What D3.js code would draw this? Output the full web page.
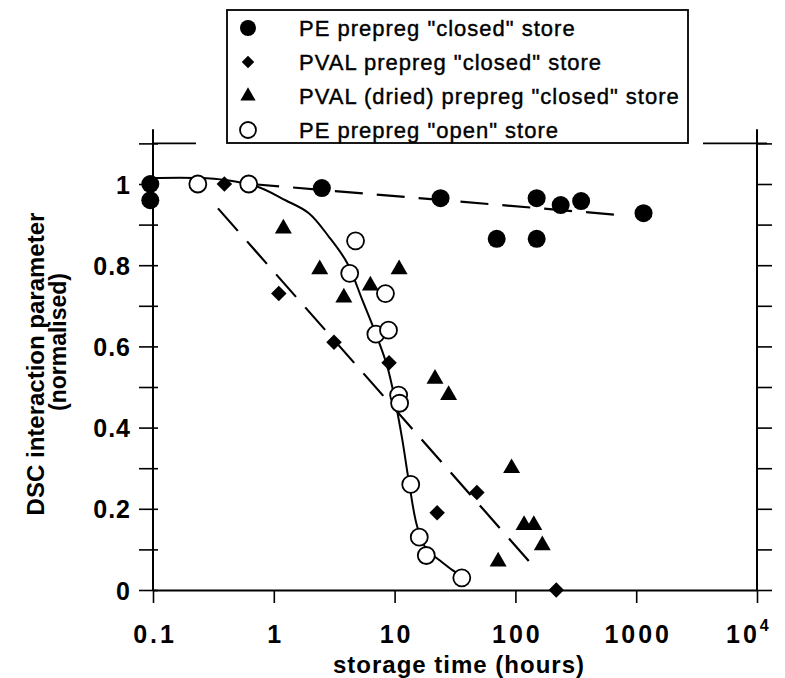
<!DOCTYPE html>
<html>
<head>
<meta charset="utf-8">
<script src="https://cdn.jsdelivr.net/npm/d3@7"></script>
<style>
    body { margin: 0; background: #fff; }
    svg { font-family: "Liberation Sans", Arial, sans-serif; }
</style>
</head>
<body>
<svg id="chart" width="785" height="678"></svg>
<script>
// values: x = storage time (hours), y = normalised DSC parameter
const peClosedX = [0.095, 0.095, 2.5, 24, 70, 150, 150, 237, 350, 1150];
const peClosedY = [1.0, 0.96, 0.99, 0.965, 0.865, 0.965, 0.865, 0.948, 0.958, 0.928];

const pvalClosedX = [0.39, 1.1, 3.15, 9.0, 22.5, 48, 218];
const pvalClosedY = [1.0, 0.73, 0.61, 0.56, 0.19, 0.24, 0.0];

const pvalDriedX = [1.2, 2.4, 3.8, 6.3, 10.9, 21.6, 28, 72, 93, 118, 142, 167];
const pvalDriedY = [0.89, 0.79, 0.72, 0.75, 0.79, 0.52, 0.48, 0.07, 0.30, 0.16, 0.16, 0.11];

const peOpenX = [0.235, 0.62, 4.25, 4.75, 7.0, 8.4, 8.9, 10.8, 11, 13.6, 16, 18.3, 36];
const peOpenY = [1.0, 1.0, 0.78, 0.86, 0.63, 0.73, 0.64, 0.48, 0.46, 0.26, 0.13, 0.085, 0.03];

// fitted lines drawn on the original
const peClosedFitX = [0.65, 700];
const peClosedFitY = [1.0, 0.924];
const pvalFitX = [0.345, 135];
const pvalFitY = [0.94, 0.065];
const peOpenFitX = [0.095, 0.24, 0.4, 0.71, 1.25, 1.95, 2.86, 4.06, 5.41, 6.97, 8.71, 10.2, 11.6, 13.2, 15.4, 18.6, 23.4, 30.1, 36.3];
const peOpenFitY = [1.015, 1.015, 1.01, 0.995, 0.96, 0.928, 0.87, 0.805, 0.714, 0.632, 0.55, 0.46, 0.369, 0.263, 0.156, 0.098, 0.074, 0.049, 0.034];

const xTicks = [0.1, 1, 10, 100, 1000, 10000];
const xTickLabels = ["0.1", "1", "10", "100", "1000", ""];
const yTicks = [0, 0.1, 0.2, 0.3, 0.4, 0.5, 0.6, 0.7, 0.8, 0.9, 1.0, 1.1];
const yTickLabels = ["0", "", "0.2", "", "0.4", "", "0.6", "", "0.8", "", "1", ""];

const legendLabels = [
    'PE prepreg "closed" store',
    'PVAL prepreg "closed" store',
    'PVAL (dried) prepreg "closed" store',
    'PE prepreg "open" store'
];

const zip = (xs, ys) => xs.map((v, i) => [v, ys[i]]);

const svg = d3.select("#chart");

const x = d3.scaleLog().domain([0.1, 10000]).range([153, 757]);
const y = d3.scaleLinear().domain([0, 1.1]).range([590, 143.4]);

// left axis (ticks cross the line)
const left = svg.append("g")
    .attr("transform", `translate(${x(0.1)},0)`)
    .call(d3.axisLeft(y).tickValues(yTicks).tickSize(14).tickSizeOuter(0)
        .tickFormat((d, i) => yTickLabels[i]));
left.select(".domain").remove();
left.selectAll(".tick line").attr("x1", 5).attr("stroke-width", 1.6);
left.selectAll(".tick text").filter(d => !yTickLabels[yTicks.indexOf(d)]).remove();
left.selectAll(".tick text")
    .attr("x", -22)
    .attr("dy", "0.36em")
    .attr("font-size", 25)
    .attr("font-weight", "bold")
    .attr("letter-spacing", 1)
    .attr("fill", "#000");

// right axis
const right = svg.append("g")
    .attr("transform", `translate(${x(10000)},0)`)
    .call(d3.axisRight(y).tickValues(yTicks).tickSize(15).tickSizeOuter(0).tickFormat(""));
right.select(".domain").remove();
right.selectAll(".tick text").remove();
right.selectAll(".tick line").attr("stroke-width", 1.6);

// vertical axis lines run a little above the top frame
[x(0.1), x(10000)].forEach(px => {
    svg.append("line")
        .attr("x1", px).attr("x2", px)
        .attr("y1", y(0)).attr("y2", y(1.135))
        .attr("stroke", "#000").attr("stroke-width", 2);
});

// bottom axis
const bottom = svg.append("g")
    .attr("transform", `translate(0,${y(0)})`)
    .call(d3.axisBottom(x).tickValues(xTicks).tickSize(13).tickSizeOuter(0)
        .tickFormat((d, i) => xTickLabels[i]));
bottom.select(".domain").attr("stroke-width", 2.2);
bottom.selectAll(".tick line").attr("stroke-width", 1.6);
bottom.selectAll(".tick text").filter(d => d === 10000).remove();
bottom.selectAll(".tick text")
    .attr("y", 53)
    .attr("dy", 0)
    .attr("dx", 1.5)
    .attr("font-size", 25)
    .attr("font-weight", "bold")
    .attr("letter-spacing", 3)
    .attr("fill", "#000");

// 10^4 label
const pow = svg.append("text")
    .attr("x", x(10000) - 31)
    .attr("y", y(0) + 53)
    .attr("font-size", 25)
    .attr("font-weight", "bold");
pow.append("tspan").attr("letter-spacing", 3).text("10");
pow.append("tspan").attr("dy", -12).attr("font-size", 16).text("4");

// top frame
svg.append("line")
    .attr("x1", x(0.1)).attr("x2", x(10000) + 10)
    .attr("y1", y(1.1)).attr("y2", y(1.1))
    .attr("stroke", "#000").attr("stroke-width", 1.8);

// axis titles
svg.append("text")
    .attr("x", 459)
    .attr("y", 673)
    .attr("text-anchor", "middle")
    .attr("font-size", 24)
    .attr("font-weight", "bold")
    .attr("letter-spacing", 1)
    .text("storage time (hours)");

svg.append("text")
    .attr("transform", "translate(44,364) rotate(-90)")
    .attr("text-anchor", "middle")
    .attr("font-size", 24)
    .attr("font-weight", "bold")
    .text("DSC interaction parameter");

svg.append("text")
    .attr("transform", "translate(66,342) rotate(-90)")
    .attr("text-anchor", "middle")
    .attr("font-size", 23)
    .attr("font-weight", "bold")
    .text("(normalised)");

// fitted lines
const line = d3.line().x(d => x(d[0])).y(d => y(d[1]));

svg.append("path")
    .datum(zip(peClosedFitX, peClosedFitY))
    .attr("d", line)
    .attr("fill", "none").attr("stroke", "#000")
    .attr("stroke-width", 2.2).attr("stroke-dasharray", "28,14");

svg.append("path")
    .datum(zip(pvalFitX, pvalFitY))
    .attr("d", line)
    .attr("fill", "none").attr("stroke", "#000")
    .attr("stroke-width", 2.2).attr("stroke-dasharray", "30,14");

svg.append("path")
    .datum(zip(peOpenFitX, peOpenFitY))
    .attr("d", line.curve(d3.curveCatmullRom))
    .attr("fill", "none").attr("stroke", "#000")
    .attr("stroke-width", 2);

// markers
const diamond = d3.symbol(d3.symbolSquare, 120);
const triangle = d3.symbol(d3.symbolTriangle, 125);

svg.append("g").selectAll("circle")
    .data(zip(peClosedX, peClosedY))
    .enter()
    .append("circle")
    .attr("cx", d => x(d[0]))
    .attr("cy", d => y(d[1]))
    .attr("r", 9)
    .attr("fill", "#000");

svg.append("g").selectAll("path")
    .data(zip(pvalClosedX, pvalClosedY))
    .enter()
    .append("path")
    .attr("d", diamond)
    .attr("transform", d => `translate(${x(d[0])},${y(d[1])}) rotate(45)`)
    .attr("fill", "#000");

svg.append("g").selectAll("path")
    .data(zip(pvalDriedX, pvalDriedY))
    .enter()
    .append("path")
    .attr("d", triangle)
    .attr("transform", d => `translate(${x(d[0])},${y(d[1])})`)
    .attr("fill", "#000");

svg.append("g").selectAll("circle")
    .data(zip(peOpenX, peOpenY))
    .enter()
    .append("circle")
    .attr("cx", d => x(d[0]))
    .attr("cy", d => y(d[1]))
    .attr("r", 8.5)
    .attr("fill", "#fff")
    .attr("stroke", "#000")
    .attr("stroke-width", 1.8);

// legend, its white margin hides the middle of the top frame
const legend = svg.append("g");
legend.append("rect")
    .attr("x", 196).attr("y", 0)
    .attr("width", 507).attr("height", 148)
    .attr("fill", "#fff");
legend.append("rect")
    .attr("x", 227).attr("y", 10)
    .attr("width", 461).attr("height", 133)
    .attr("fill", "#fff").attr("stroke", "#000").attr("stroke-width", 1.8);

const rows = legend.selectAll("g.row")
    .data(legendLabels)
    .enter()
    .append("g")
    .attr("class", "row")
    .attr("transform", (d, i) => `translate(248,${28 + i * 34})`);

rows.append("text")
    .attr("x", 51)
    .attr("y", 7.5)
    .attr("font-size", 22)
    .attr("letter-spacing", 1)
    .attr("stroke", "#000")
    .attr("stroke-width", 0.4)
    .text(d => d);

rows.filter((d, i) => i === 0).append("circle").attr("r", 8).attr("fill", "#000");
rows.filter((d, i) => i === 1).append("path")
    .attr("d", d3.symbol(d3.symbolSquare, 78)).attr("transform", "rotate(45)").attr("fill", "#000");
rows.filter((d, i) => i === 2).append("path")
    .attr("d", d3.symbol(d3.symbolTriangle, 100)).attr("fill", "#000");
rows.filter((d, i) => i === 3).append("circle").attr("r", 8)
    .attr("fill", "#fff").attr("stroke", "#000").attr("stroke-width", 1.8);
</script>
</body>
</html>
